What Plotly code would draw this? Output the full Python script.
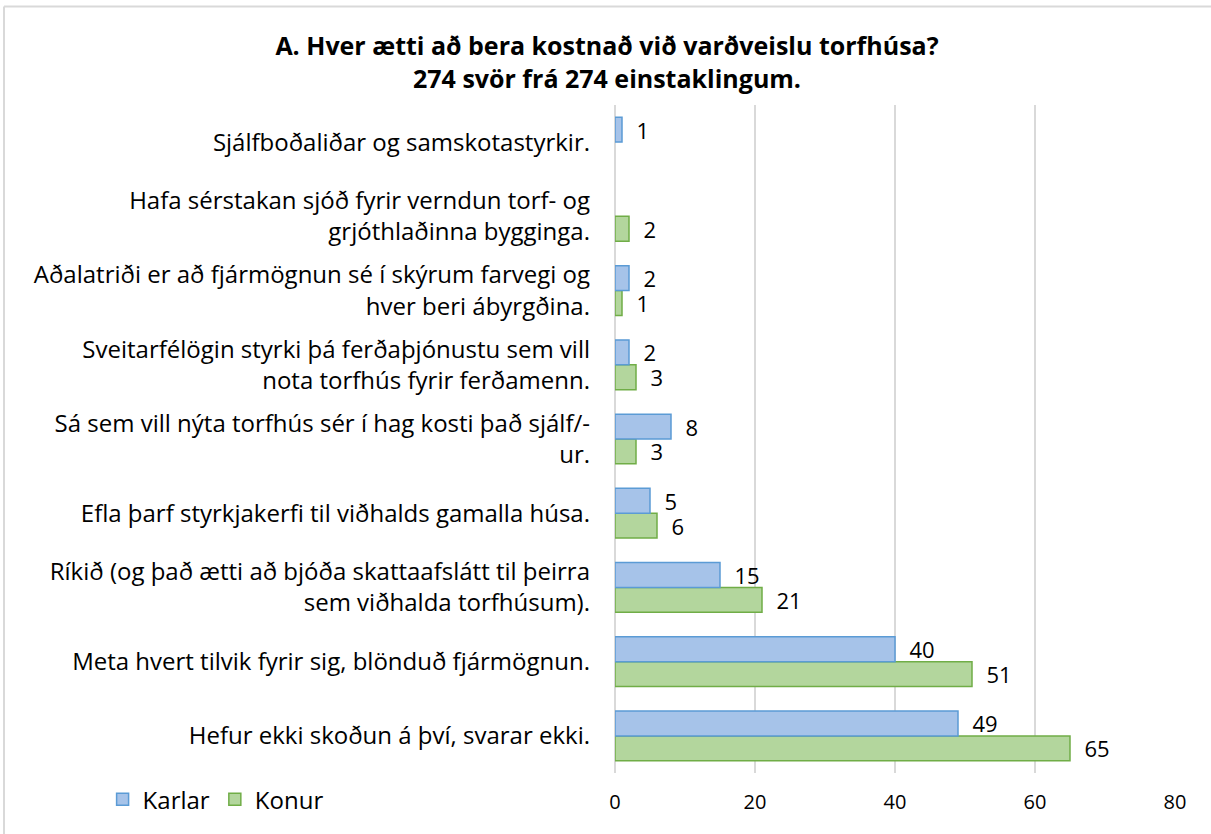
import plotly.graph_objects as go

categories = [
    "Hefur ekki skoðun á því, svarar ekki.",
    "Meta hvert tilvik fyrir sig, blönduð fjármögnun.",
    "Ríkið (og það ætti að bjóða skattaafslátt til þeirra<br>sem viðhalda torfhúsum).",
    "Efla þarf styrkjakerfi til viðhalds gamalla húsa.",
    "Sá sem vill nýta torfhús sér í hag kosti það sjálf/-<br>ur.",
    "Sveitarfélögin styrki þá ferðaþjónustu sem vill<br>nota torfhús fyrir ferðamenn.",
    "Aðalatriði er að fjármögnun sé í skýrum farvegi og<br>hver beri ábyrgðina.",
    "Hafa sérstakan sjóð fyrir verndun torf- og<br>grjóthlaðinna bygginga.",
    "Sjálfboðaliðar og samskotastyrkir.",
]
karlar = [49, 40, 15, 5, 8, 2, 2, None, 1]
konur = [65, 51, 21, 6, 3, 3, 1, 2, None]
x_ticks = [0, 20, 40, 60, 80]

FONT = "Open Sans"
FS = 24

def labels(vals):
    return ["" if v is None else "  " + str(v) for v in vals]

fig = go.Figure()
fig.add_trace(go.Bar(
    y=categories, x=konur, name="Konur", orientation="h",
    marker=dict(color="#B3D69D", line=dict(color="#70AD47", width=1.5)),
    text=labels(konur), textposition="outside", cliponaxis=False,
    constraintext="none",
    textfont=dict(size=22, color="#000000", family=FONT),
    legendrank=2,
))
fig.add_trace(go.Bar(
    y=categories, x=karlar, name="Karlar", orientation="h",
    marker=dict(color="#A6C3E9", line=dict(color="#5B9BD5", width=1.5)),
    text=labels(karlar), textposition="outside", cliponaxis=False,
    constraintext="none",
    textfont=dict(size=22, color="#000000", family=FONT),
    legendrank=1,
))

fig.update_layout(
    width=1211, height=834,
    barmode="group", bargap=0.33, bargroupgap=0,
    paper_bgcolor="white", plot_bgcolor="white",
    margin=dict(l=615, r=36, t=105, b=58),
    font=dict(family=FONT, color="#000000"),
    title=dict(
        text="<b>A. Hver ætti að bera kostnað við varðveislu torfhúsa?<br>274 svör frá 274 einstaklingum.</b>",
        x=607 / 1211, xref="container", xanchor="center",
        y=1 - 55 / 834, yref="container", yanchor="top",
        font=dict(size=25, family=FONT, color="#000000"),
    ),
    xaxis=dict(
        range=[0, 80], tickvals=x_ticks, showgrid=True, gridcolor="#D9D9D9",
        gridwidth=1.5, zeroline=True, zerolinecolor="#D9D9D9", zerolinewidth=1.5,
        showline=False, tickfont=dict(size=20, family=FONT), ticklabelstandoff=15,
    ),
    yaxis=dict(
        categoryorder="array", categoryarray=categories,
        showgrid=False, showline=False, zeroline=False,
        tickfont=dict(size=FS, family=FONT), ticklabelstandoff=24,
    ),
    showlegend=True,
    legend=dict(
        orientation="h", x=-0.915, xanchor="left", y=-0.04, yanchor="middle",
        font=dict(size=FS, family=FONT), itemwidth=30,
    ),
)
# chart frame (top and left edges visible in the reference)
fig.add_shape(type="line", xref="paper", yref="paper",
              x0=-(615 - 4) / 560, x1=1 + 60 / 560,
              y0=1 + (105 - 6) / 671, y1=1 + (105 - 6) / 671,
              line=dict(color="#D9D9D9", width=2), layer="below")
fig.add_shape(type="line", xref="paper", yref="paper",
              x0=-(615 - 4) / 560, x1=-(615 - 4) / 560,
              y0=-80 / 671, y1=1 + (105 - 6) / 671,
              line=dict(color="#D9D9D9", width=2), layer="below")
fig.write_html("out.html", config={"displayModeBar": False},
               post_script="document.body.style.margin='0';")
